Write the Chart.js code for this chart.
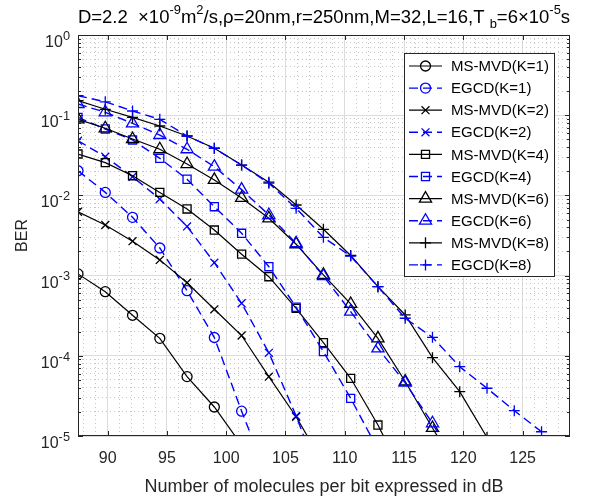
<!DOCTYPE html>
<html>
<head>
<meta charset="utf-8">
<script src="https://cdn.jsdelivr.net/npm/chart.js@4.4.1/dist/chart.umd.min.js"></script>
<style>
  body { margin: 0; background: #fff; }
  #wrap { width: 606px; height: 501px; }
</style>
</head>
<body>
<div id="wrap"><canvas id="berChart"></canvas></div>
<script>
// molecules per bit (dB)
const snrDb = [87.5, 89.8, 92.1, 94.4, 96.7, 99.0, 101.3, 103.6, 105.9, 108.2, 110.5, 112.8, 115.1, 117.4, 119.7, 122.0, 124.3, 126.6];

// BER values
const msmvdK1 = [1.05e-3, 6.3e-4, 3.2e-4, 1.65e-4, 5.5e-5, 2.3e-5, 7.7e-6];
const egcdK1  = [2.03e-2, 1.09e-2, 5.33e-3, 2.21e-3, 6.48e-4, 1.69e-4, 2.04e-5, 2.8e-6];
const msmvdK2 = [6.26e-3, 4.27e-3, 2.69e-3, 1.57e-3, 8.15e-4, 3.80e-4, 1.79e-4, 5.49e-5, 1.74e-5, 4.5e-6];
const egcdK2  = [4.81e-2, 3.04e-2, 1.71e-2, 9.02e-3, 4.10e-3, 1.45e-3, 4.52e-4, 1.09e-4, 1.78e-5, 2.2e-6];
const msmvdK4 = [3.28e-2, 2.56e-2, 1.76e-2, 1.09e-2, 6.77e-3, 3.70e-3, 1.85e-3, 9.69e-4, 3.91e-4, 1.46e-4, 5.24e-5, 1.37e-5, 2.9e-6];
const egcdK4  = [9.41e-2, 6.73e-2, 4.91e-2, 2.90e-2, 1.59e-2, 7.23e-3, 3.37e-3, 1.29e-3, 4.03e-4, 1.13e-4, 2.95e-5, 6.8e-6];
const msmvdK6 = [8.89e-2, 6.87e-2, 5.05e-2, 3.76e-2, 2.46e-2, 1.56e-2, 9.29e-3, 5.18e-3, 2.46e-3, 1.02e-3, 4.43e-4, 1.65e-4, 4.78e-5, 1.26e-5, 3.4e-6];
const egcdK6  = [0.138, 0.1087, 7.92e-2, 5.66e-2, 3.76e-2, 2.28e-2, 1.18e-2, 5.70e-3, 2.53e-3, 9.89e-4, 3.55e-4, 1.24e-4, 4.62e-5, 1.44e-5, 3.7e-6];
const msmvdK8 = [0.152, 0.1185, 9.41e-2, 7.33e-2, 5.50e-2, 3.87e-2, 2.39e-2, 1.46e-2, 7.59e-3, 3.78e-3, 1.78e-3, 7.27e-4, 3.23e-4, 9.47e-5, 3.57e-5, 9.6e-6];
const egcdK8  = [0.175, 0.147, 0.1128, 8.89e-2, 5.50e-2, 3.87e-2, 2.39e-2, 1.42e-2, 6.90e-3, 3.00e-3, 1.75e-3, 7.27e-4, 2.94e-4, 1.70e-4, 7.31e-5, 3.94e-5, 2.07e-5, 1.13e-5];

const seriesLabels = ['MS-MVD(K=1)', 'EGCD(K=1)', 'MS-MVD(K=2)', 'EGCD(K=2)', 'MS-MVD(K=4)',
                      'EGCD(K=4)', 'MS-MVD(K=6)', 'EGCD(K=6)', 'MS-MVD(K=8)', 'EGCD(K=8)'];
const seriesValues = [msmvdK1, egcdK1, msmvdK2, egcdK2, msmvdK4, egcdK4, msmvdK6, egcdK6, msmvdK8, egcdK8];

// axis ticks
const xTickValues = [88, 89, 90, 91, 92, 93, 94, 95, 96, 97, 98, 99, 100, 101, 102, 103, 104, 105, 106, 107, 108,
                     109, 110, 111, 112, 113, 114, 115, 116, 117, 118, 119, 120, 121, 122, 123, 124, 125, 126, 127, 128];
const xTickLabels = [90, 95, 100, 105, 110, 115, 120, 125];
const yDecades = [1e-5, 1e-4, 1e-3, 1e-2, 1e-1, 1];
const yDecadeExp = ['-5', '-4', '-3', '-2', '-1', '0'];
const yMinorMult = [2, 3, 4, 5, 6, 7, 8, 9];

const FONT = '"Liberation Sans", Arial, Helvetica, sans-serif';
const INK = '#262626';
const markers = ['circle', 'circle', 'crossRot', 'crossRot', 'rect', 'rect', 'triangle', 'triangle', 'cross', 'cross'];
const markerSize = { circle: 5, crossRot: 5.6, rect: 5.7, triangle: 7, cross: 5.5 };

const yTickValues = [];
yDecades.forEach((d, i) => {
  yTickValues.push(d);
  if (i < yDecades.length - 1) yMinorMult.forEach(m => yTickValues.push(d * m));
});

const isDecade = v => Math.abs(Math.log10(v) - Math.round(Math.log10(v))) < 1e-9;

const datasets = seriesValues.map((vals, i) => {
  const blue = i % 2 === 1;
  const col = blue ? '#0000ff' : '#000000';
  return {
    label: seriesLabels[i],
    data: vals.map((v, j) => ({ x: snrDb[j], y: v })),
    borderColor: col,
    borderWidth: blue ? 1.4 : 1.2,
    borderDash: blue ? [9, 5] : [],
    pointStyle: markers[i],
    pointRadius: markerSize[markers[i]],
    pointBorderColor: col,
    pointBackgroundColor: 'rgba(0,0,0,0)',
    pointBorderWidth: 1.3,
    tension: 0,
    fill: false,
    order: 20 - i
  };
});

// text with super/subscripts: parts = [text, shift], shift 1 = sup, -1 = sub
function richText(ctx, parts, x, y, size, align, supScale) {
  const k = supScale || 0.7;
  const fontFor = s => (s ? size * k : size) + 'px ' + FONT;
  const widths = parts.map(([t, s]) => { ctx.font = fontFor(s); return ctx.measureText(t).width; });
  const total = widths.reduce((a, b) => a + b, 0);
  let cx = align === 'right' ? x - total : (align === 'center' ? x - total / 2 : x);
  ctx.textAlign = 'left';
  ctx.textBaseline = 'alphabetic';
  parts.forEach(([t, s], i) => {
    ctx.font = fontFor(s);
    const dy = s === 1 ? -size * 0.45 : (s === -1 ? size * 0.3 : 0);
    ctx.fillText(t, cx, y + dy);
    cx += widths[i];
  });
}

const titleParts = [['D=2.2  \u00d710', 0], ['-9', 1], ['m', 0], ['2', 1],
  ['/s,\u03c1=20nm,r=250nm,M=32,L=16,T ', 0], ['b', -1], ['=6\u00d710', 0], ['-5', 1], ['s', 0]];

const matlabFrame = {
  id: 'matlabFrame',
  afterDraw(chart) {
    const { ctx, chartArea: a, scales: { x, y } } = chart;
    ctx.save();
    // box
    ctx.strokeStyle = INK;
    ctx.lineWidth = 1;
    ctx.setLineDash([]);
    ctx.strokeRect(a.left + 0.5, a.top + 0.5, a.right - a.left - 1, a.bottom - a.top - 1);
    // inward ticks
    ctx.beginPath();
    xTickLabels.forEach(v => {
      const px = Math.round(x.getPixelForValue(v)) + 0.5;
      ctx.moveTo(px, a.bottom); ctx.lineTo(px, a.bottom - 5);
      ctx.moveTo(px, a.top); ctx.lineTo(px, a.top + 5);
    });
    yTickValues.forEach(v => {
      const py = Math.round(y.getPixelForValue(v)) + 0.5;
      const len = isDecade(v) ? 5 : 3;
      ctx.moveTo(a.left, py); ctx.lineTo(a.left + len, py);
      ctx.moveTo(a.right, py); ctx.lineTo(a.right - len, py);
    });
    ctx.stroke();
    // y tick labels 10^k
    ctx.fillStyle = INK;
    yDecades.forEach((d, i) => {
      const py = y.getPixelForValue(d);
      richText(ctx, [['10', 0], [yDecadeExp[i], 1]], a.left - 8, py + 12, 16, 'right', 0.8);
    });
    // title
    ctx.fillStyle = '#000';
    richText(ctx, titleParts, (a.left + a.right) / 2, 22.5, 18.5, 'center');
    // legend
    const lx = 404, ly = 53, lw = 150, lh = 223, rowH = 22.1;
    ctx.fillStyle = '#fff';
    ctx.fillRect(lx, ly, lw, lh);
    ctx.strokeStyle = INK;
    ctx.lineWidth = 1;
    ctx.strokeRect(lx + 0.5, ly + 0.5, lw, lh);
    chart.data.datasets.forEach((ds, i) => {
      const ry = ly + 13 + rowH * i;
      ctx.strokeStyle = ds.borderColor;
      ctx.lineWidth = ds.borderWidth;
      ctx.setLineDash(ds.borderDash);
      ctx.beginPath();
      ctx.moveTo(lx + 5, ry); ctx.lineTo(lx + 38, ry);
      ctx.stroke();
      ctx.setLineDash([]);
      ctx.lineWidth = ds.pointBorderWidth;
      ctx.fillStyle = 'rgba(0,0,0,0)';
      Chart.helpers.drawPoint(ctx, { pointStyle: ds.pointStyle, radius: ds.pointRadius, rotation: 0, borderWidth: ds.pointBorderWidth }, lx + 21.5, ry);
      ctx.fillStyle = '#000';
      ctx.font = '15px ' + FONT;
      ctx.textAlign = 'left';
      ctx.textBaseline = 'middle';
      ctx.fillText(ds.label, lx + 47, ry + 1);
    });
    ctx.restore();
  }
};

const ctx = document.getElementById('berChart').getContext('2d');

new Chart(ctx, {
  type: 'line',
  data: { datasets: datasets },
  options: {
    responsive: true,
    maintainAspectRatio: false,
    animation: false,
    layout: { padding: { top: 35, right: 36, left: 0, bottom: 0 } },
    plugins: {
      legend: { display: false },
      tooltip: { enabled: false }
    },
    scales: {
      x: {
        type: 'linear',
        min: 87.5,
        max: 129,
        afterBuildTicks: s => { s.ticks = xTickValues.map(v => ({ value: v, major: v % 5 === 0 })); },
        afterFit: s => { s.height = 65; },
        ticks: {
          autoSkip: false,
          maxRotation: 0,
          padding: 13,
          color: INK,
          font: { family: FONT, size: 16 },
          callback: v => (xTickLabels.includes(v) ? String(v) : '')
        },
        grid: {
          drawTicks: false,
          lineWidth: 1,
          color: c => (c.tick && c.tick.value % 5 === 0 ? '#dcdcdc' : '#c4c4c4')
        },
        border: {
          display: false,
          dash: c => (c.tick && c.tick.value % 5 !== 0 ? [1, 3] : [])
        },
        title: {
          display: true,
          text: 'Number of molecules per bit expressed in dB',
          color: INK,
          font: { family: FONT, size: 18 },
          padding: { top: 0, bottom: 3 }
        }
      },
      y: {
        type: 'logarithmic',
        min: 1e-5,
        max: 1,
        afterBuildTicks: s => { s.ticks = yTickValues.map(v => ({ value: v, major: isDecade(v) })); },
        afterFit: s => { s.width = 78; },
        ticks: { display: false },
        grid: {
          drawTicks: false,
          lineWidth: 1,
          color: c => (c.tick && isDecade(c.tick.value) ? '#dcdcdc' : '#c4c4c4')
        },
        border: {
          display: false,
          dash: c => (c.tick && !isDecade(c.tick.value) ? [1, 3] : [])
        },
        title: {
          display: true,
          text: 'BER',
          color: INK,
          font: { family: FONT, size: 16 },
          padding: { top: 13, bottom: 0 }
        }
      }
    }
  },
  plugins: [matlabFrame]
});
</script>
</body>
</html>
